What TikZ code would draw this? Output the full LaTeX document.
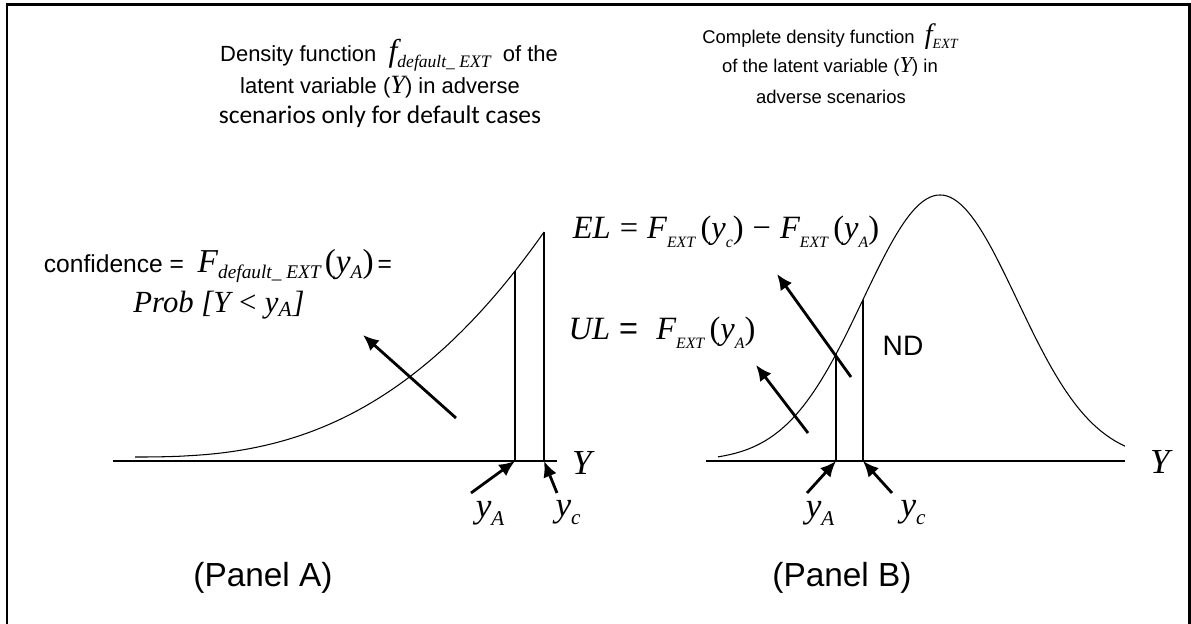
\documentclass[tikz,border=0pt]{standalone}
\usepackage{fontspec}
\setmainfont{Liberation Sans}
\newfontfamily\tms{Liberation Serif}
\newfontfamily\calib{Carlito}
\usetikzlibrary{arrows.meta}
\newcommand{\vr}[1]{{\tms\itshape #1}}
\newcommand{\up}[1]{{\tms #1}}
\newcommand{\lsub}[2][9]{\raisebox{-0.5ex}{\fontsize{#1}{#1}\selectfont\tms\itshape #2}}
\tikzset{
    txt/.style={font=\fontsize{12.5}{15}\selectfont, inner sep=0pt},
    frml/.style={font=\fontsize{18.5}{20}\selectfont, inner sep=0pt},
    lbl/.style={font=\fontsize{20}{22}\selectfont\tms\itshape, inner sep=0pt},
    ptr/.style={line width=1.6pt, -{Latex[length=9pt,width=8pt]}},
    axis/.style={line width=1.1pt},
    dens/.style={line width=0.6pt},
    cut/.style={line width=0.8pt}
}
\begin{document}
\begin{tikzpicture}[x=0.02cm, y=-0.02cm]
    \useasboundingbox (0,0) rectangle (1191,624);
    % 1. Khung
    \draw[line width=1.7pt] (7,624) -- (7,5) -- (1189,5) -- (1189,624);

    % 2. Panel A
    \draw[axis] (113,461) -- (557,461);
    \draw[dens, samples=80, domain=135:544]
        plot (\x, {457 - 225*((\x-134)/410)^2.6});
    \draw[cut] (515,461) -- (515,271);
    \draw[cut] (544,461) -- (544,232);
    \node[lbl] (YA) at (582,463) {Y};

    \node[txt] (tA1) at (389,55) {Density function \ {\fontsize{18}{18}\selectfont\vr{f}}\lsub[10]{default\_ EXT}\ \ of the};
    \node[txt] (tA2) at (380,87) {latent variable ({\fontsize{15}{15}\selectfont\vr{Y}}) in adverse};
    \node[txt, font=\fontsize{14.5}{16}\selectfont\calib] (tA3) at (380,117) {scenarios only for default cases};

    \node[txt, font=\fontsize{14}{16}\selectfont] (conf) at (218,266) {confidence = \ {\fontsize{19}{19}\selectfont\vr{F}}\lsub[11]{default\_ EXT}\,{\fontsize{19}{19}\selectfont\up{(}\vr{y}}\lsub[11]{A}{\fontsize{19}{19}\selectfont\up{)}}\,=};
    \node[frml, font=\fontsize{17.5}{20}\selectfont] (prob) at (219,305) {\vr{Prob [Y} \up{<} \vr{y\textsubscript{A}]}};

    % 3. Mui ten panel A
    \coordinate (pA1) at (456,418);
    \coordinate (pA2) at (363,335);
    \draw[ptr] (pA1) -- (pA2);
    \coordinate (yAa) at (515,461);
    \coordinate (ycA) at (544,461);
    \coordinate (tyAa) at (471,493);
    \coordinate (tycA) at (557,493);
    \draw[ptr] (tyAa) -- (yAa);
    \draw[ptr] (tycA) -- (ycA);
    \node[lbl] (lyAa) at (490,513) {y\lsub[12]{A}};
    \node[lbl] (lycA) at (568,513) {y\lsub[12]{c}};

    \node[txt, font=\fontsize{19}{21}\selectfont] (pnA) at (263,578) {(Panel A)};

    % 4. Panel B
    \draw[axis] (706,461) -- (1125,461);
    \draw[dens, samples=120, domain=718:1125]
        plot (\x, {461 - 266*exp(-0.5*((\x-940)/77)^2)});
    \draw[cut] (836,461) -- (836,354);
    \draw[cut] (863,461) -- (863,300);
    \node[lbl] (YB) at (1160,462) {Y};

    \node[txt, font=\fontsize{10.5}{12}\selectfont] (tB1) at (830,37) {Complete density function \ {\fontsize{16}{16}\selectfont\vr{f}}\lsub[8]{EXT}};
    \node[txt, font=\fontsize{10.5}{12}\selectfont] (tB2) at (830,67) {of the latent variable ({\fontsize{13}{13}\selectfont\vr{Y}}) in};
    \node[txt, font=\fontsize{10.5}{12}\selectfont] (tB3) at (831,97) {adverse scenarios};

    \node[frml] (el) at (726,232) {\vr{EL} \up{=} \vr{F}\lsub{EXT}\,\up{(}\vr{y}\lsub{c}\up{)} \up{\textminus} \vr{F}\lsub{EXT}\,\up{(}\vr{y}\lsub{A}\up{)}};
    \node[frml] (ul) at (662,333) {\vr{UL} = \ \vr{F}\lsub{EXT}\,\up{(}\vr{y}\lsub{A}\up{)}};
    \node[txt, font=\fontsize{16}{18}\selectfont] (nd) at (903,346) {ND};

    % 5. Mui ten panel B
    \coordinate (pB1) at (851,377);
    \coordinate (pB2) at (777,274);
    \draw[ptr] (pB1) -- (pB2);
    \coordinate (pB3) at (808,433);
    \coordinate (pB4) at (756,365);
    \draw[ptr] (pB3) -- (pB4);
    \coordinate (yAb) at (836,461);
    \coordinate (ycb) at (863,461);
    \coordinate (tyAb) at (807,493);
    \coordinate (tycb) at (892,493);
    \draw[ptr] (tyAb) -- (yAb);
    \draw[ptr] (tycb) -- (ycb);
    \node[lbl] (lyAb) at (820,513) {y\lsub[12]{A}};
    \node[lbl] (lycb) at (913,513) {y\lsub[12]{c}};

    \node[txt, font=\fontsize{19}{21}\selectfont] (pnB) at (842,578) {(Panel B)};
\end{tikzpicture}
\end{document}
